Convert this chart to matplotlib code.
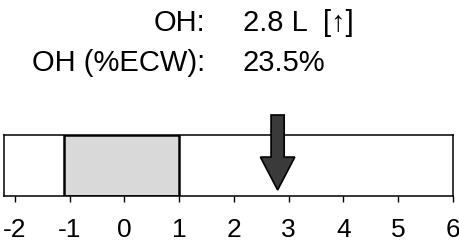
import matplotlib
matplotlib.use("Agg")
import matplotlib.pyplot as plt
from matplotlib.patches import Rectangle

plt.rcParams['font.family'] = ['Liberation Sans', 'DejaVu Sans']

# values
oh_value = 2.8            # L
oh_percent = 23.5         # % ECW
normal_range = (-1.1, 1.0)
ticks = [-2, -1, 0, 1, 2, 3, 4, 5, 6]
label_rows = ["OH:", "OH (%ECW):"]
value_rows = ["2.8 L  [\u2191]", "23.5%"]

fig = plt.figure(figsize=(4.6, 2.43), dpi=100)
ax = fig.add_axes([0.009, 0.193, 0.975, 0.251])
ax.set_xlim(-2.2, 6.0)
ax.set_ylim(0, 1)

# normal range box
ax.add_patch(Rectangle((normal_range[0], 0), normal_range[1] - normal_range[0], 1,
                       facecolor='#d9d9d9', edgecolor='black', linewidth=1.8, zorder=2))

# arrow for measured value
ax.arrow(oh_value, 1.33, 0, -1.23, width=0.24, head_width=0.63, head_length=0.54,
         length_includes_head=True, facecolor='#3a3a3a', edgecolor='black',
         linewidth=1.2, clip_on=False, zorder=3)

ax.set_yticks([])
ax.set_xticks(ticks)
ax.set_xticklabels([str(t) for t in ticks], fontsize=19)
ax.tick_params(axis='x', length=4, width=1, direction='out', pad=12)
for s in ax.spines.values():
    s.set_linewidth(1.1)

for i, (lab, val) in enumerate(zip(label_rows, value_rows)):
    y = 0.905 - i * 0.165
    fig.text(0.446, y, lab, ha='right', va='center', fontsize=21)
    fig.text(0.528, y, val, ha='left', va='center', fontsize=21)

fig.savefig("out.png", dpi=100)
